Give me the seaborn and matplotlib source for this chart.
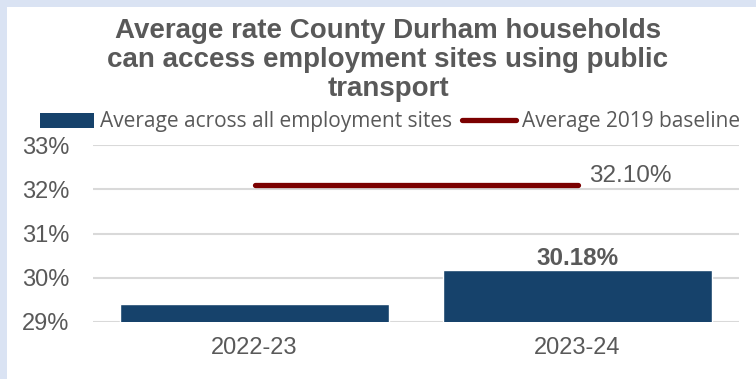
import matplotlib
matplotlib.use("Agg")
import matplotlib.pyplot as plt
from matplotlib.patches import Rectangle
from matplotlib.lines import Line2D
import seaborn as sns
import pandas as pd

# Data
periods = ["2022-23", "2023-24"]
avg_rate = [29.41, 30.18]          # average across all employment sites (%)
baseline = [32.10, 32.10]          # average 2019 baseline (%)
y_ticks = [29, 30, 31, 32, 33]

title = ("Average rate County Durham households\n"
         "can access employment sites using public\n"
         "transport")
bar_label = "Average across all employment sites"
line_label = "Average 2019 baseline"

BAR_COLOR = "#16426b"
LINE_COLOR = "#7b0000"
TEXT_COLOR = "#595959"
GRID_COLOR = "#d9d9d9"
FRAME_COLOR = "#dae3f3"

df = pd.DataFrame({"period": periods, "rate": avg_rate, "baseline": baseline})

sns.set_theme(style="white")
plt.rcParams["font.family"] = ["Liberation Sans", "DejaVu Sans"]

W, H = 756, 379
fig = plt.figure(figsize=(W / 100, H / 100), dpi=100)
fig.patch.set_facecolor("white")

# Light blue frame strips on the left and top edges
fig.patches.append(Rectangle((0, 0), 7 / W, 1, transform=fig.transFigure,
                             facecolor=FRAME_COLOR, edgecolor="none", zorder=0))
fig.patches.append(Rectangle((0, 1 - 7 / H), 1, 7 / H, transform=fig.transFigure,
                             facecolor=FRAME_COLOR, edgecolor="none", zorder=0))

ax = fig.add_axes([93 / W, 1 - 322 / H, (739 - 93) / W, (322 - 145) / H])

sns.barplot(data=df, x="period", y="rate", color=BAR_COLOR, width=0.83,
            saturation=1, ax=ax, zorder=2)
sns.lineplot(data=df, x="period", y="baseline", color=LINE_COLOR, linewidth=3.8,
             ax=ax, zorder=3, solid_capstyle="round")

ax.set_ylim(29, 33)
ax.set_xlim(-0.5, 1.5)
ax.set_yticks(y_ticks)
ax.set_yticklabels([f"{t}%" for t in y_ticks])
ax.set_xlabel("")
ax.set_ylabel("")
ax.yaxis.grid(True, color=GRID_COLOR, linewidth=1.5, zorder=0)
ax.set_axisbelow(True)
for s in ax.spines.values():
    s.set_visible(False)
ax.tick_params(axis="both", length=0, labelsize=17, colors=TEXT_COLOR)
ax.tick_params(axis="y", pad=17)
ax.tick_params(axis="x", pad=11)

# Value labels
ax.text(1, avg_rate[1] + 0.0, f"{avg_rate[1]:.2f}%", ha="center", va="bottom",
        fontsize=17.5, fontweight="bold", color=TEXT_COLOR)
ax.text(1.036, baseline[1] - 0.05, f"{baseline[1]:.2f}%", ha="left", va="bottom",
        fontsize=17.5, color=TEXT_COLOR)

fig.text(388 / W, 1 - 18 / H, title, ha="center", va="top", fontsize=20,
         fontweight="bold", color=TEXT_COLOR, linespacing=1.15)

handles = [Rectangle((0, 0), 1, 1, facecolor=BAR_COLOR, edgecolor="none"),
           Line2D([0], [0], color=LINE_COLOR, linewidth=3.8, solid_capstyle="round")]
fig.legend(handles, [bar_label, line_label], loc="center",
           bbox_to_anchor=(390 / W, 1 - 122 / H), ncol=2, frameon=False,
           prop={"family": "Open Sans", "size": 15}, labelcolor=TEXT_COLOR,
           handlelength=2.6, handleheight=0.75, handletextpad=0.25, columnspacing=0.5,
           borderaxespad=0)

fig.savefig("out.png", dpi=100, facecolor="white")
